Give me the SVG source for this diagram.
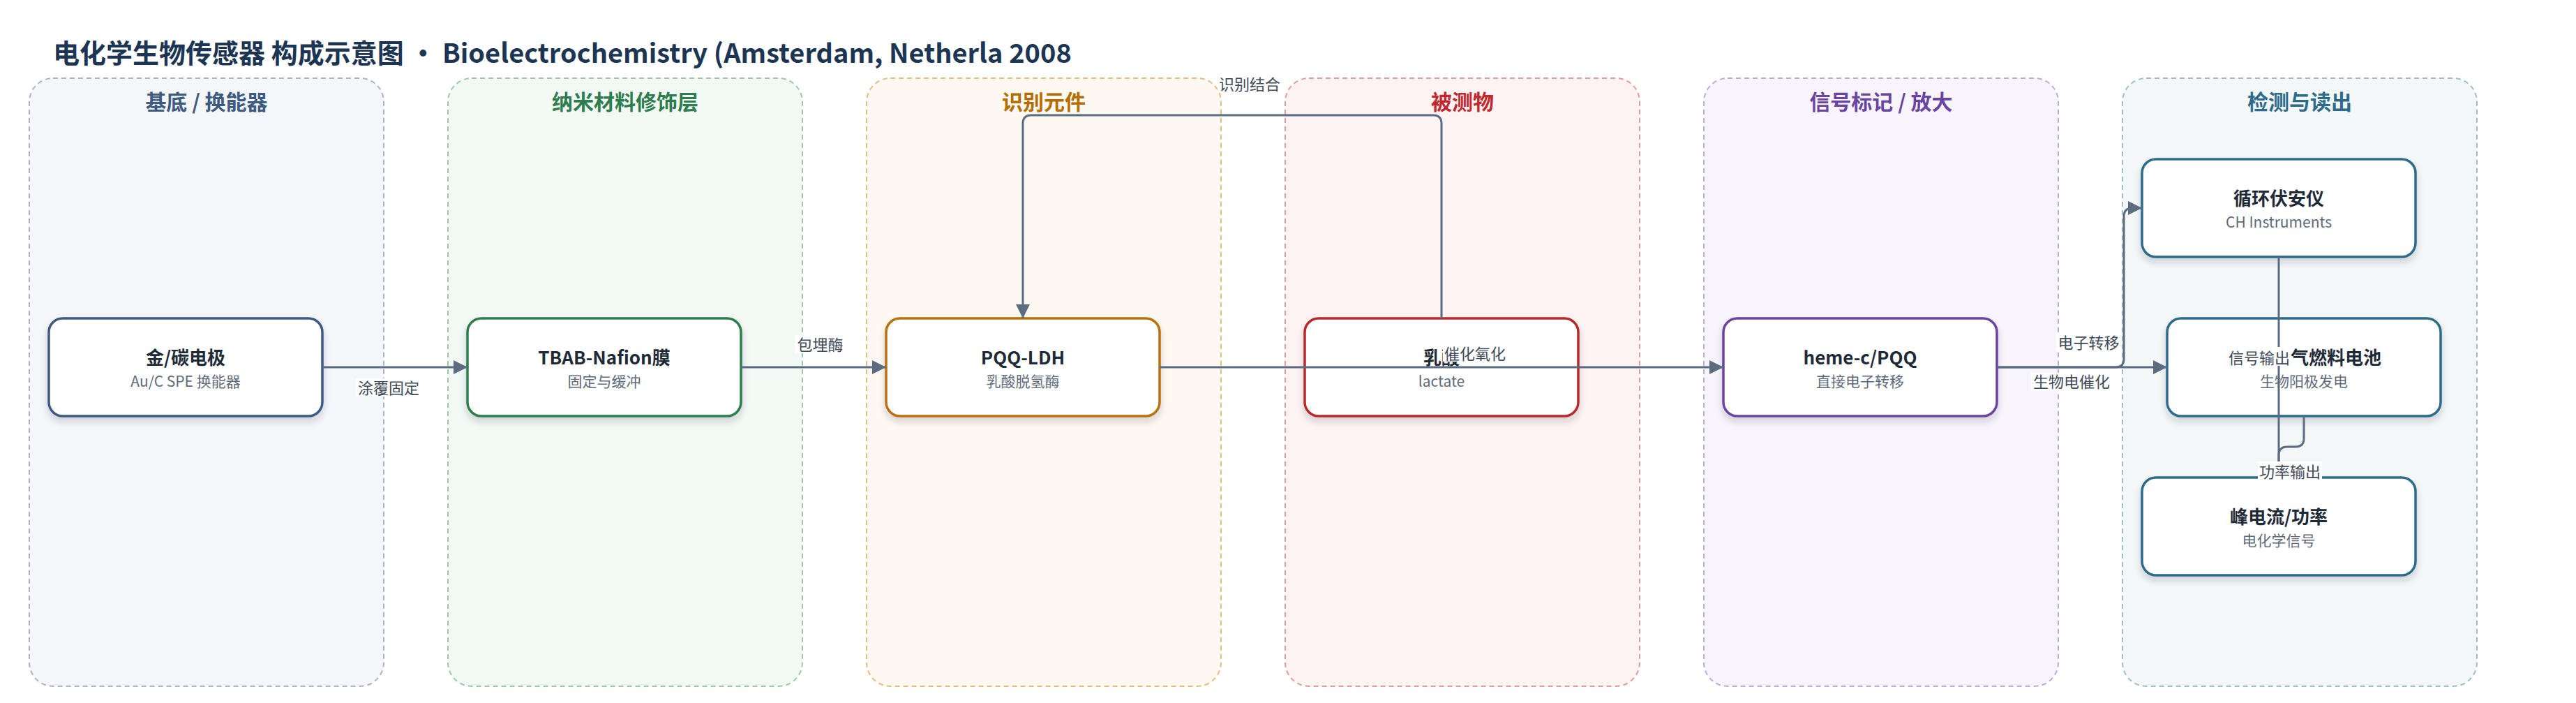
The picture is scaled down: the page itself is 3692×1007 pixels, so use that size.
<svg xmlns="http://www.w3.org/2000/svg" width="3692" height="1007" viewBox="0 0 3692 1007">
<style>
text{font-family:"Noto Sans CJK SC","Noto Sans",sans-serif}
.title{font-size:38px;font-weight:700;fill:#1c3553}
.panel{stroke-width:2;stroke-dasharray:7 5}
.ptitle{font-size:30px;font-weight:700;text-anchor:middle}
.node{fill:#ffffff;stroke-width:3.5;filter:url(#sh)}
.nt{font-size:26px;font-weight:700;fill:#1f2a37;text-anchor:middle}
.ns{font-size:21px;fill:#5f6b7a;text-anchor:middle}
.edge{fill:none;stroke:#5b6b80;stroke-width:3}
.arr{marker-end:url(#ah)}
.lbg{fill:#ffffff}
.lt{font-size:22px;fill:#404a58;text-anchor:middle}
</style>
<defs>
<filter id="sh" x="-10%" y="-10%" width="120%" height="140%">
<feDropShadow dx="0" dy="6" stdDeviation="5" flood-color="#1f2a37" flood-opacity="0.18"/>
</filter>
<marker id="ah" markerUnits="userSpaceOnUse" markerWidth="20" markerHeight="20" refX="20" refY="10" orient="auto">
<path d="M0,0 L20,10 L0,20 z" fill="#5b6b80"/>
</marker>
</defs>
<rect width="3692" height="1007" fill="#ffffff"/>
<text class="title" x="76" y="90">电化学生物传感器 构成示意图 · Bioelectrochemistry (Amsterdam, Netherla 2008</text>

<g id="panels">
<g id="panel-substrate"><rect class="panel" x="42" y="112" width="508" height="871" rx="34" fill="#f5f6fa" stroke="#a8b4c8"/><text class="ptitle" x="296" y="157" fill="#3d5a80">基底 / 换能器</text></g>
<g id="panel-nano"><rect class="panel" x="642" y="112" width="508" height="871" rx="34" fill="#f2f8f4" stroke="#9ccaa8"/><text class="ptitle" x="896" y="157" fill="#2e7d4e">纳米材料修饰层</text></g>
<g id="panel-recog"><rect class="panel" x="1242" y="112" width="508" height="871" rx="34" fill="#fdf8f1" stroke="#e6bd7d"/><text class="ptitle" x="1496" y="157" fill="#b36d00">识别元件</text></g>
<g id="panel-analyte"><rect class="panel" x="1842" y="112" width="508" height="871" rx="34" fill="#fdf3f3" stroke="#e39a9a"/><text class="ptitle" x="2096" y="157" fill="#c0282d">被测物</text></g>
<g id="panel-signal"><rect class="panel" x="2442" y="112" width="508" height="871" rx="34" fill="#f7f4fb" stroke="#c2a9dc"/><text class="ptitle" x="2696" y="157" fill="#6b44a0">信号标记 / 放大</text></g>
<g id="panel-readout"><rect class="panel" x="3042" y="112" width="508" height="871" rx="34" fill="#f3f7f8" stroke="#9dbfca"/><text class="ptitle" x="3296" y="157" fill="#2e6b8a">检测与读出</text></g>
</g>

<g id="nodes">
<g id="n-electrode"><rect class="node" x="70" y="456" width="392" height="140" rx="20" stroke="#3d5a80"/><text class="nt" x="266" y="522">金/碳电极</text><text class="ns" x="266" y="553.5">Au/C SPE 换能器</text></g>
<g id="n-nafion"><rect class="node" x="670" y="456" width="392" height="140" rx="20" stroke="#2e7d4e"/><text class="nt" x="866" y="522">TBAB-Nafion膜</text><text class="ns" x="866" y="553.5">固定与缓冲</text></g>
<g id="n-pqqldh"><rect class="node" x="1270" y="456" width="392" height="140" rx="20" stroke="#b8720a"/><text class="nt" x="1466" y="522">PQQ-LDH</text><text class="ns" x="1466" y="553.5">乳酸脱氢酶</text></g>
<g id="n-lactate"><rect class="node" x="1870" y="456" width="392" height="140" rx="20" stroke="#b52a2a"/><text class="nt" x="2066" y="522">乳酸</text><text class="ns" x="2066" y="553.5">lactate</text></g>
<g id="n-heme"><rect class="node" x="2470" y="456" width="392" height="140" rx="20" stroke="#6b44a0"/><text class="nt" x="2666" y="522">heme-c/PQQ</text><text class="ns" x="2666" y="553.5">直接电子转移</text></g>
<g id="n-cv"><rect class="node" x="3070" y="228" width="392" height="140" rx="20" stroke="#2e6b8a"/><text class="nt" x="3266" y="294">循环伏安仪</text><text class="ns" x="3266" y="325.5">CH Instruments</text></g>
<g id="n-fuelcell"><rect class="node" x="3106" y="456" width="392" height="140" rx="20" stroke="#2e6b8a"/><text class="nt" x="3283" y="522" style="text-anchor:start">气燃料电池</text><text class="ns" x="3302" y="553.5">生物阳极发电</text></g>
<g id="n-peak"><rect class="node" x="3070" y="684" width="392" height="140" rx="20" stroke="#2e6b8a"/><text class="nt" x="3266" y="750">峰电流/功率</text><text class="ns" x="3266" y="781.5">电化学信号</text></g>
</g>

<g id="connectors">
<path class="edge arr" d="M462,526 L670,526"/>
<path class="edge arr" d="M1062,526 L1270,526"/>
<path class="edge arr" d="M1662,526 L2470,526"/>
<path class="edge arr" d="M2066,456 L2066,177 Q2066,165 2054,165 L1478,165 Q1466,165 1466,177 L1466,456"/>
<path class="edge arr" d="M2862,526 L3032,526 Q3044,526 3044,514 L3044,310 Q3044,298 3056,298 L3070,298"/>
<path class="edge arr" d="M2862,526 L3106,526"/>
<path class="edge arr" d="M3266,368 L3266,684"/>
<path class="edge arr" d="M3302,596 L3302,628 Q3302,640 3290,640 L3278,640 Q3266,640 3266,652 L3266,684"/>
<g id="edge-labels">
<rect class="lbg" x="510" y="542" width="94" height="26"/><text class="lt" x="557" y="563.5">涂覆固定</text>
<rect class="lbg" x="1139" y="480" width="73" height="26"/><text class="lt" x="1175.5" y="501.5">包埋酶</text>
<rect class="lbg" x="2068" y="493" width="92" height="25"/><text class="lt" x="2114" y="514.5">催化氧化</text>
<rect class="lbg" x="1745" y="107" width="92" height="26"/><text class="lt" x="1791" y="128.5">识别结合</text>
<rect class="lbg" x="2947" y="477" width="93" height="26"/><text class="lt" x="2993.5" y="498.5">电子转移</text>
<rect class="lbg" x="2911" y="534" width="116" height="26"/><text class="lt" x="2969" y="555">生物电催化</text>
<rect class="lbg" x="3192" y="497" width="91" height="27"/><text class="lt" x="3238" y="521">信号输出</text>
<rect class="lbg" x="3236" y="661" width="92" height="27"/><text class="lt" x="3282" y="684">功率输出</text>
</g>
</g>
</svg>
